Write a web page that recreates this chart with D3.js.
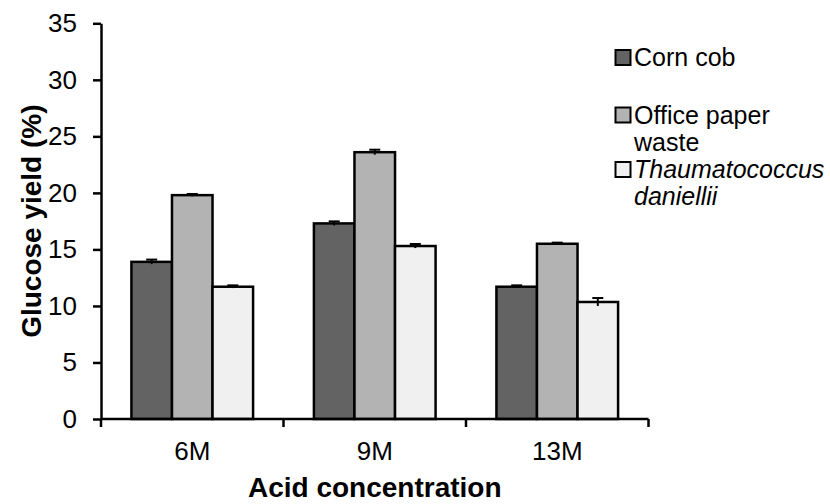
<!DOCTYPE html>
<html>
<head>
<meta charset="utf-8">
<script src="https://cdn.jsdelivr.net/npm/d3@7"></script>
<style>
  body { margin: 0; background: #fff; }
  svg { display: block; font-family: "Liberation Sans", Arial, sans-serif; }
</style>
</head>
<body>
<svg id="chart"></svg>
<script>
// data
const categories = ["6M", "9M", "13M"];
const seriesNames = ["Corn cob", "Office paper waste", "Thaumatococcus daniellii"];
const cornCob = [13.9, 17.3, 11.7];
const officePaper = [19.8, 23.6, 15.5];
const thaumatococcus = [11.7, 15.3, 10.35];
const cornCobErr = [0.2, 0.18, 0.12];
const officePaperErr = [0.1, 0.22, 0.1];
const thaumatococcusErr = [0.12, 0.18, 0.35];
const yTicks = [0, 5, 10, 15, 20, 25, 30, 35];

const width = 830, height = 504;
const marginLeft = 101, plotRight = 648.5, plotTop = 23.3, plotBottom = 419;
const colors = ["#636363", "#b3b3b3", "#f0f0f0"];
const fontFamily = "'Liberation Sans', Arial, sans-serif";

const values = [cornCob, officePaper, thaumatococcus];
const errors = [cornCobErr, officePaperErr, thaumatococcusErr];
const rows = [];
categories.forEach((c, ci) => {
  seriesNames.forEach((s, si) => {
    rows.push({ cat: c, series: s, si: si, value: values[si][ci], err: errors[si][ci] });
  });
});

const svg = d3.select("#chart")
  .attr("width", width)
  .attr("height", height)
  .attr("viewBox", [0, 0, width, height]);

const x = d3.scaleBand(categories, [marginLeft, plotRight]).padding(0);
const gap = x.bandwidth() * (1.5 / 4.5); // excel gap width 150%
const xInner = d3.scaleBand(seriesNames, [gap / 2, x.bandwidth() - gap / 2]).padding(0);
const y = d3.scaleLinear([0, 35], [plotBottom, plotTop]);
const barMid = d => x(d.cat) + xInner(d.series) + xInner.bandwidth() / 2;

// bars
svg.append("g")
  .selectAll("rect")
  .data(rows)
  .join("rect")
    .attr("x", d => x(d.cat) + xInner(d.series))
    .attr("y", d => y(d.value))
    .attr("width", xInner.bandwidth())
    .attr("height", d => y(0) - y(d.value))
    .attr("fill", d => colors[d.si])
    .attr("stroke", "#000")
    .attr("stroke-width", 2.5);

// error bars
const eb = svg.append("g").attr("stroke", "#000").attr("stroke-width", 2);
eb.selectAll("line.v")
  .data(rows)
  .join("line")
    .attr("class", "v")
    .attr("x1", barMid)
    .attr("x2", barMid)
    .attr("y1", d => y(d.value - d.err))
    .attr("y2", d => y(d.value + d.err));
eb.selectAll("line.cap")
  .data(rows)
  .join("line")
    .attr("class", "cap")
    .attr("x1", d => barMid(d) - 5.5)
    .attr("x2", d => barMid(d) + 5.5)
    .attr("y1", d => y(d.value + d.err))
    .attr("y2", d => y(d.value + d.err));

// y axis
svg.append("g")
  .attr("transform", `translate(${marginLeft},0)`)
  .call(d3.axisLeft(y).tickValues(yTicks).tickSize(8).tickSizeOuter(0).tickPadding(16))
  .call(g => g.select(".domain").attr("stroke-width", 2.5))
  .call(g => g.selectAll(".tick line").attr("stroke-width", 2.5))
  .call(g => g.selectAll(".tick text")
    .attr("fill", "#000")
    .style("font-size", "26px")
    .style("font-family", fontFamily));

// x axis: labels centred, ticks at category borders
svg.append("g")
  .attr("transform", `translate(0,${plotBottom})`)
  .call(d3.axisBottom(x).tickSize(0).tickPadding(23))
  .call(g => g.select(".domain").remove())
  .call(g => g.selectAll(".tick text")
    .attr("fill", "#000")
    .style("font-size", "26px")
    .style("font-family", fontFamily));

const borders = categories.map(c => x(c)).concat([x.range()[1]]);
svg.append("g")
  .attr("stroke", "#000")
  .attr("stroke-width", 2.5)
  .call(g => g.append("line")
    .attr("x1", marginLeft).attr("x2", plotRight)
    .attr("y1", plotBottom).attr("y2", plotBottom))
  .call(g => g.selectAll("line.tk")
    .data(borders)
    .join("line")
      .attr("class", "tk")
      .attr("x1", d => d).attr("x2", d => d)
      .attr("y1", plotBottom).attr("y2", plotBottom + 8));

// axis titles
svg.append("text")
  .attr("x", (marginLeft + plotRight) / 2)
  .attr("y", 497)
  .attr("text-anchor", "middle")
  .style("font-size", "28px")
  .style("font-weight", "bold")
  .text("Acid concentration");

svg.append("text")
  .attr("transform", `translate(41,${(plotTop + plotBottom) / 2}) rotate(-90)`)
  .attr("text-anchor", "middle")
  .style("font-size", "28px")
  .style("font-weight", "bold")
  .text("Glucose yield (%)");

// legend
const legendItems = [
  { lines: ["Corn cob"], italic: false, top: 66 },
  { lines: ["Office paper", "waste"], italic: false, top: 123.5 },
  { lines: ["Thaumatococcus", "daniellii"], italic: true, top: 178 }
];
const legend = svg.append("g");
legendItems.forEach((it, i) => {
  legend.append("rect")
    .attr("x", 615.5)
    .attr("y", it.top - 16)
    .attr("width", 15)
    .attr("height", 15)
    .attr("fill", colors[i])
    .attr("stroke", "#000")
    .attr("stroke-width", 2);
  const t = legend.append("text")
    .attr("x", 634)
    .attr("y", it.top)
    .style("font-size", "25px")
    .style("font-style", it.italic ? "italic" : "normal");
  it.lines.forEach((ln, li) => {
    t.append("tspan")
      .attr("x", 634)
      .attr("dy", li === 0 ? 0 : 27)
      .text(ln);
  });
});
</script>
</body>
</html>
